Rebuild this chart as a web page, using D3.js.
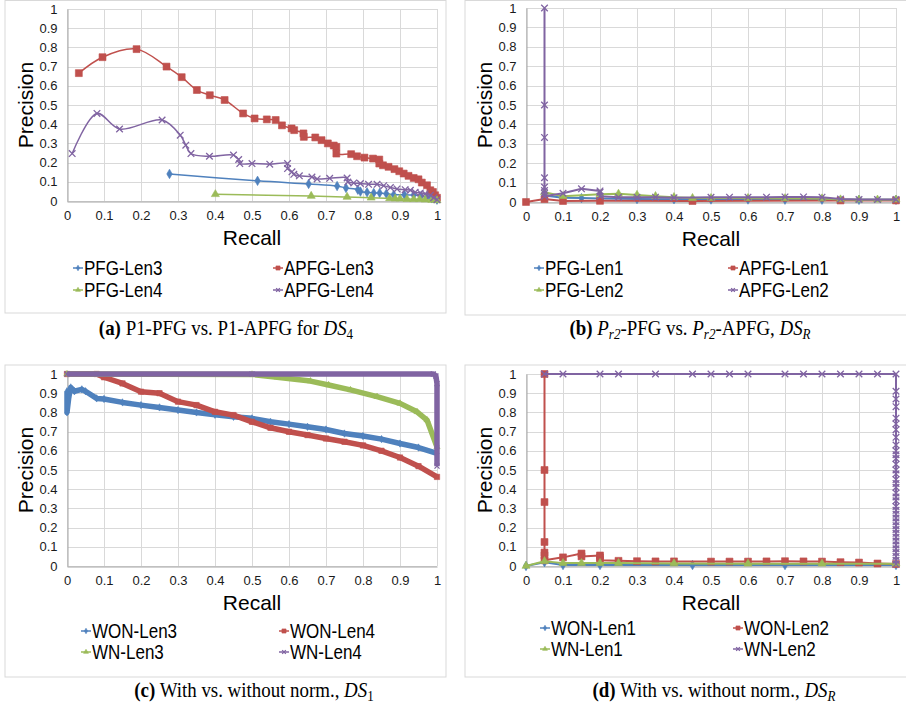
<!DOCTYPE html>
<html>
<head>
<meta charset="utf-8">
<script src="https://cdn.jsdelivr.net/npm/d3@7"></script>
<style>
  body { margin: 0; background: #fff; }
  svg text { font-family: "Liberation Sans", Arial, sans-serif; }
</style>
</head>
<body>
<svg id="fig" width="906" height="727"></svg>
<script>
// ---- axis ticks ----
const tickValues = [0, 0.1, 0.2, 0.3, 0.4, 0.5, 0.6, 0.7, 0.8, 0.9, 1];
const tickLabels = ["0", "0.1", "0.2", "0.3", "0.4", "0.5", "0.6", "0.7", "0.8", "0.9", "1"];

// ---- (a) P1-PFG vs. P1-APFG for DS4 : [recall, precision] ----
const pfgLen3 = [[0.277,0.141],[0.515,0.105],[0.653,0.089],[0.73,0.078],[0.754,0.068],[0.786,0.059],[0.793,0.049],[0.811,0.045],[0.829,0.042],[0.845,0.042],[0.863,0.038],[0.883,0.033],[0.912,0.033],[0.937,0.031],[0.957,0.026],[0.973,0.021],[0.986,0.014],[1.0,0.007]];
const apfgLen3 = [[0.032,0.666],[0.096,0.749],[0.188,0.791],[0.269,0.700],[0.31,0.645],[0.351,0.578],[0.386,0.551],[0.426,0.526],[0.476,0.456],[0.507,0.430],[0.54,0.425],[0.564,0.422],[0.581,0.394],[0.607,0.378],[0.614,0.369],[0.639,0.352],[0.64,0.334],[0.671,0.331],[0.688,0.317],[0.705,0.300],[0.721,0.289],[0.728,0.282],[0.728,0.247],[0.768,0.244],[0.784,0.233],[0.804,0.226],[0.827,0.221],[0.844,0.216],[0.844,0.195],[0.854,0.186],[0.869,0.178],[0.885,0.166],[0.898,0.155],[0.91,0.143],[0.923,0.131],[0.937,0.120],[0.95,0.113],[0.959,0.096],[0.973,0.082],[0.982,0.056],[0.989,0.047],[0.995,0.030],[1.0,0.017]];
const pfgLen4 = [[0.401,0.035],[0.66,0.026],[0.757,0.021],[0.822,0.017],[0.872,0.014],[0.887,0.012],[0.9,0.012],[0.919,0.010],[0.937,0.009],[0.953,0.009],[0.968,0.007],[0.986,0.005],[1.0,0.003]];
const apfgLen4 = [[0.014,0.247],[0.081,0.456],[0.142,0.375],[0.257,0.422],[0.306,0.343],[0.321,0.291],[0.335,0.247],[0.385,0.233],[0.450,0.239],[0.464,0.216],[0.467,0.195],[0.5,0.195],[0.548,0.192],[0.596,0.195],[0.596,0.169],[0.608,0.152],[0.613,0.139],[0.628,0.131],[0.662,0.125],[0.676,0.115],[0.71,0.118],[0.757,0.120],[0.759,0.099],[0.775,0.094],[0.793,0.091],[0.815,0.087],[0.838,0.087],[0.856,0.080],[0.874,0.070],[0.892,0.063],[0.914,0.059],[0.928,0.056],[0.941,0.045],[0.955,0.042],[0.968,0.038],[0.982,0.030],[0.991,0.017],[1.0,0.007]];

// ---- (b) Pr2-PFG vs. Pr2-APFG, DSR ----
const pfgLen1 = [[0.05,0.033],[0.1,0.022],[0.15,0.02],[0.2,0.018],[0.3,0.015],[0.4,0.014],[0.5,0.013],[0.6,0.013],[0.7,0.012],[0.8,0.012],[0.9,0.011],[1.0,0.011]];
const apfgLen1 = [[0,0],[0.05,0.015],[0.1,0.005],[0.2,0.006],[0.45,0.005],[0.85,0.008],[1.0,0.008]];
const pfgLen2 = [[0.05,0.05],[0.1,0.03],[0.2,0.04],[0.25,0.042],[0.3,0.036],[0.35,0.03],[0.4,0.025],[0.45,0.02],[0.5,0.02],[0.6,0.02],[0.7,0.019],[0.8,0.018],[0.85,0.013],[0.9,0.012],[0.95,0.012],[1.0,0.012]];
const apfgLen2 = [[0.05,1],[0.05,0.5],[0.05,0.333],[0.05,0.125],[0.05,0.077],[0.05,0.059],[0.05,0.045],[0.05,0.03],[0.1,0.045],[0.15,0.068],[0.2,0.057],[0.2,0.05],[0.2,0.03],[0.25,0.025],[0.3,0.025],[0.35,0.025],[0.4,0.022],[0.5,0.024],[0.55,0.025],[0.6,0.025],[0.65,0.025],[0.7,0.026],[0.75,0.026],[0.8,0.025],[0.85,0.015],[0.9,0.013],[0.95,0.013],[1.0,0.013]];

// ---- (c) With vs. without norm., DS1 ----
const wonLen3 = [[0,0.91],[0,0.8],[0.005,0.88],[0.01,0.93],[0.02,0.91],[0.04,0.92],[0.05,0.91],[0.08,0.873],[0.1,0.87],[0.15,0.852],[0.2,0.838],[0.25,0.826],[0.3,0.812],[0.35,0.8],[0.4,0.788],[0.45,0.777],[0.5,0.769],[0.55,0.751],[0.6,0.739],[0.65,0.725],[0.7,0.711],[0.75,0.69],[0.8,0.677],[0.85,0.661],[0.9,0.638],[0.95,0.617],[1.0,0.586]];
const wonLen4 = [[0,1],[0.08,1],[0.1,0.983],[0.15,0.951],[0.2,0.908],[0.25,0.9],[0.3,0.856],[0.35,0.838],[0.4,0.803],[0.45,0.786],[0.5,0.751],[0.55,0.72],[0.6,0.699],[0.65,0.682],[0.7,0.664],[0.75,0.647],[0.8,0.628],[0.85,0.6],[0.9,0.565],[0.95,0.52],[1.0,0.464]];
const wnLen3 = [[0,1],[0.5,0.998],[0.568,0.983],[0.658,0.963],[0.707,0.943],[0.766,0.917],[0.838,0.882],[0.9,0.847],[0.946,0.803],[0.973,0.76],[1.0,0.62]];
const wnLen4 = [[0,1],[0.5,1],[0.99,1],[0.997,0.99],[1.0,0.95],[1.0,0.52]];

// ---- (d) With vs. without norm., DSR ----
const wonLen1 = [[0,0],[0.05,0.02],[0.1,0.005],[0.2,0.005],[0.45,0.005],[0.7,0.005],[1.0,0.005]];
const wonLen2 = [[0.05,1],[0.05,0.5],[0.05,0.333],[0.05,0.125],[0.05,0.07],[0.05,0.055],[0.05,0.03],[0.1,0.045],[0.15,0.065],[0.15,0.05],[0.2,0.055],[0.2,0.045],[0.2,0.03],[0.25,0.027],[0.3,0.025],[0.35,0.024],[0.4,0.024],[0.5,0.023],[0.55,0.023],[0.6,0.023],[0.65,0.024],[0.7,0.025],[0.75,0.024],[0.8,0.023],[0.85,0.02],[0.9,0.018],[0.95,0.013],[1.0,0.01]];
const wnLen1 = [[0,0],[0.05,0.025],[0.1,0.015],[0.15,0.015],[0.2,0.015],[0.25,0.015],[0.4,0.013],[0.6,0.012],[0.8,0.012],[1.0,0.012]];
const wnLen2 = [[0.05,1],[0.1,1],[0.2,1],[0.25,1],[0.35,1],[0.45,1],[0.5,1],[0.55,1],[0.6,1],[0.7,1],[0.75,1],[0.8,1],[0.85,1],[0.9,1],[0.95,1],[1.0,1],[1.0,0.91],[1.0,0.87],[1.0,0.83],[1.0,0.77],[1.0,0.74],[1.0,0.71],[1.0,0.67],[1.0,0.63],[1.0,0.6],[1.0,0.58],[1.0,0.56],[1.0,0.53],[1.0,0.5],[1.0,0.48],[1.0,0.45],[1.0,0.43],[1.0,0.41],[1.0,0.38],[1.0,0.36],[1.0,0.34],[1.0,0.31],[1.0,0.29],[1.0,0.27],[1.0,0.25],[1.0,0.23],[1.0,0.21],[1.0,0.19],[1.0,0.17],[1.0,0.15],[1.0,0.13],[1.0,0.11],[1.0,0.09],[1.0,0.07],[1.0,0.05],[1.0,0.03],[1.0,0.01]];

// Office palette and marker per series slot
const BLUE = "#4F81BD", RED = "#C0504D", GREEN = "#9BBB59", PURPLE = "#8064A2";
const styles = [
  { color: BLUE,   symbol: d3.symbolDiamond,  size: 26, fill: true },
  { color: RED,    symbol: d3.symbolSquare,   size: 48, fill: true },
  { color: GREEN,  symbol: d3.symbolTriangle, size: 28, fill: true },
  { color: PURPLE, symbol: d3.symbolTimes,    size: 30, fill: false }
];

const panels = [
  { frame: [5, 0.5, 441, 312.5], plot: [67, 437, 201, 9], smooth: true, lw: 1.5,
    series: [pfgLen3, apfgLen3, pfgLen4, apfgLen4],
    names: ["PFG-Len3", "APFG-Len3", "PFG-Len4", "APFG-Len4"],
    legend: { cols: [78, 278], rows: [268, 290] } },
  { frame: [465, 0.5, 445, 314.5], plot: [526, 896, 202, 8], smooth: false, lw: 2,
    series: [pfgLen1, apfgLen1, pfgLen2, apfgLen2],
    names: ["PFG-Len1", "APFG-Len1", "PFG-Len2", "APFG-Len2"],
    legend: { cols: [539, 733], rows: [268, 290] } },
  { frame: [5, 365, 441, 312], plot: [67, 437, 566, 374], smooth: false, lw: 5.5, thick: true,
    series: [wonLen3, wonLen4, wnLen3, wnLen4],
    names: ["WON-Len3", "WON-Len4", "WN-Len3", "WN-Len4"],
    legend: { cols: [86, 284], rows: [631, 652] } },
  { frame: [465, 365, 445, 312], plot: [526, 896, 566, 374], smooth: false, lw: 2,
    series: [wonLen1, wonLen2, wnLen1, wnLen2],
    names: ["WON-Len1", "WON-Len2", "WN-Len1", "WN-Len2"],
    legend: { cols: [545, 738], rows: [628, 649] } }
];

const svg = d3.select("#fig");

function marker(g, st, x, y, scale) {
  const path = d3.symbol(st.symbol, st.size * scale)();
  g.append("path")
    .attr("d", path)
    .attr("transform", `translate(${x},${y})`)
    .attr("fill", st.fill ? st.color : "none")
    .attr("stroke", st.color)
    .attr("stroke-width", st.fill ? 0.6 : 1.3);
}

panels.forEach(p => {
  const g = svg.append("g");
  const [fx, fy, fw, fh] = p.frame;
  g.append("rect").attr("x", fx).attr("y", fy).attr("width", fw).attr("height", fh)
    .attr("fill", "#fff").attr("stroke", "#d9d9d9").attr("stroke-width", 1);

  const [x0, x1, y0, y1] = p.plot;
  const x = d3.scaleLinear().domain([0, 1]).range([x0, x1]);
  const y = d3.scaleLinear().domain([0, 1]).range([y0, y1]);

  // gridlines
  const grid = g.append("g").attr("stroke", "#d9d9d9").attr("stroke-width", 1);
  tickValues.forEach(t => {
    grid.append("line").attr("x1", x0).attr("x2", x1)
      .attr("y1", Math.round(y(t)) + 0.5).attr("y2", Math.round(y(t)) + 0.5);
    grid.append("line").attr("y1", y0).attr("y2", y1)
      .attr("x1", Math.round(x(t)) + 0.5).attr("x2", Math.round(x(t)) + 0.5);
  });

  // axes
  const xAxis = d3.axisBottom(x).tickValues(tickValues).tickFormat((d, i) => tickLabels[i]).tickSize(0).tickPadding(9);
  const yAxis = d3.axisLeft(y).tickValues(tickValues).tickFormat((d, i) => tickLabels[i]).tickSize(0).tickPadding(10);
  const gx = g.append("g").attr("transform", `translate(0,${Math.round(y0) + 0.5})`).call(xAxis);
  const gy = g.append("g").attr("transform", `translate(${Math.round(x0) + 0.5},0)`).call(yAxis);
  [gx, gy].forEach(a => {
    a.select(".domain").attr("stroke", "#a6a6a6");
    a.selectAll("text").attr("font-size", 13).attr("fill", "#1a1a1a")
      .attr("font-family", "Liberation Sans, Arial, sans-serif");
  });

  // axis titles
  g.append("text").attr("x", (x0 + x1) / 2).attr("y", y0 + 44)
    .attr("text-anchor", "middle").attr("font-size", 21).attr("fill", "#000").text("Recall");
  g.append("text").attr("transform", `translate(${x0 - 34},${(y0 + y1) / 2}) rotate(-90)`)
    .attr("text-anchor", "middle").attr("font-size", 21).attr("fill", "#000").text("Precision");

  // series
  const plotG = g.append("g");
  const line = d3.line().x(d => x(d[0])).y(d => y(d[1]))
    .curve(p.smooth ? d3.curveCatmullRom.alpha(0.5) : d3.curveLinear);
  p.series.forEach((data, i) => {
    const st = styles[i];
    plotG.append("path").attr("d", line(data)).attr("fill", "none")
      .attr("stroke", st.color).attr("stroke-width", p.lw).attr("stroke-linejoin", "round");
    const ms = p.thick ? 0.6 : 1;
    data.forEach(d => marker(plotG, st, x(d[0]), y(d[1]), ms));
  });

  // legend
  p.names.forEach((name, i) => {
    const st = styles[i];
    const lx = p.legend.cols[i % 2], ly = p.legend.rows[Math.floor(i / 2)];
    const lg = g.append("g");
    lg.append("line").attr("x1", lx - 5).attr("x2", lx + 5).attr("y1", ly).attr("y2", ly)
      .attr("stroke", st.color).attr("stroke-width", 1.5);
    marker(lg, st, lx, ly, 0.35);
    lg.append("text").attr("x", 0).attr("y", 0)
      .attr("transform", `translate(${lx + 6},${ly + 7}) scale(0.83,1)`)
      .attr("font-size", 20.5).attr("fill", "#000").text(name);
  });
});

// ---- sub-figure captions ----
const captions = [
  { x: 226, y: 335, parts: [["(a)", "b"], [" P1-PFG vs. P1-APFG for ", ""], ["DS", "i"], ["4", "sub"]] },
  { x: 690, y: 335, parts: [["(b) ", "b"], ["P", "i"], ["r2", "subi"], ["-PFG vs. ", ""], ["P", "i"], ["r2", "subi"], ["-APFG, ", ""], ["DS", "i"], ["R", "subi"]] },
  { x: 254, y: 697, parts: [["(c)", "b"], [" With vs. without norm., ", ""], ["DS", "i"], ["1", "sub"]] },
  { x: 714, y: 697, parts: [["(d)", "b"], [" With vs. without norm., ", ""], ["DS", "i"], ["R", "subi"]] }
];
captions.forEach(c => {
  const t = svg.append("text").attr("x", 0).attr("y", 0).attr("text-anchor", "middle")
    .attr("transform", `translate(${c.x},${c.y}) scale(0.9,1)`)
    .attr("font-family", "Liberation Serif, 'DejaVu Serif', serif").attr("font-size", 21).attr("fill", "#000");
  let sub = false;
  c.parts.forEach(([s, k]) => {
    const ts = t.append("tspan").text(s).style("font-family", "Liberation Serif, serif");
    if (k === "b") ts.attr("font-weight", "bold");
    if (k === "i" || k === "subi") ts.attr("font-style", "italic");
    if (k === "sub" || k === "subi") {
      ts.attr("font-size", 14.5);
      if (!sub) { ts.attr("dy", 4); sub = true; }
    } else if (sub) { ts.attr("dy", -4); sub = false; }
  });
});
</script>
</body>
</html>
